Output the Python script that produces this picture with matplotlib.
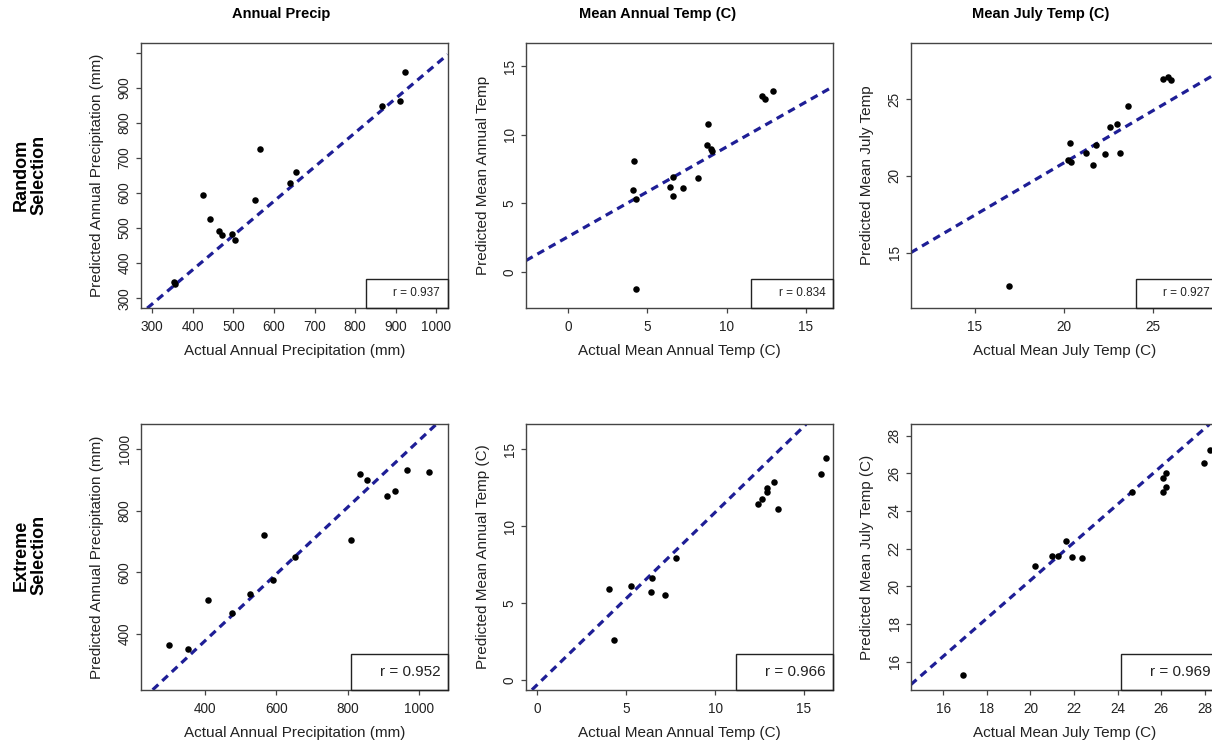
import numpy as np
import matplotlib
matplotlib.use("Agg")
import matplotlib.pyplot as plt
from matplotlib.patches import Rectangle

plt.rcParams['font.family'] = ['Liberation Sans', 'DejaVu Sans']

col_titles = ["Annual Precip", "Mean Annual Temp (C)", "Mean July Temp (C)"]
row_titles = ["Random\nSelection", "Extreme\nSelection"]

# random selection - annual precip
rp_x = [354, 356, 425, 442, 464, 471, 496, 503, 553, 565, 640, 655, 867, 911, 922]
rp_y = [345, 340, 594, 526, 492, 481, 484, 467, 580, 726, 628, 660, 848, 862, 945]
# random selection - mean annual temp
rt_x = [4.18, 4.12, 4.31, 4.27, 6.40, 6.61, 6.61, 7.23, 8.22, 8.75, 8.85, 9.0, 9.05, 12.23, 12.44, 12.89]
rt_y = [8.09, 5.94, 5.28, -1.24, 6.15, 6.88, 5.50, 6.08, 6.81, 9.28, 10.78, 8.97, 8.8, 12.84, 12.6, 13.18]
# random selection - mean july temp
rj_x = [16.91, 20.35, 20.27, 20.44, 21.23, 21.66, 21.81, 22.34, 22.62, 23.01, 23.16, 23.61, 25.6, 25.88, 26.01]
rj_y = [12.83, 22.17, 21.04, 20.93, 21.52, 20.74, 22.02, 21.43, 23.21, 23.38, 21.52, 24.55, 26.3, 26.45, 26.24]
# extreme selection - annual precip
ep_x = [300.6, 353, 409, 476.7, 526.5, 565.7, 591, 653.6, 808, 833.3, 855, 911, 933.6, 967.3, 1026.3]
ep_y = [365.4, 352.5, 510, 470, 529.3, 723, 575.4, 651, 703.7, 919.3, 900, 848.3, 864.3, 932.3, 925.7]
# extreme selection - mean annual temp
et_x = [4.07, 4.30, 5.26, 6.38, 6.45, 7.18, 7.82, 12.43, 12.62, 12.94, 12.94, 13.33, 13.56, 15.97, 16.25]
et_y = [5.95, 2.59, 6.14, 5.75, 6.62, 5.56, 7.97, 11.45, 11.77, 12.2, 12.49, 12.88, 11.12, 13.4, 14.43]
# extreme selection - mean july temp
ej_x = [16.89, 20.19, 21.0, 21.26, 21.64, 21.92, 22.38, 24.67, 26.1, 26.22, 26.22, 26.1, 27.95, 28.25]
ej_y = [15.3, 21.09, 21.62, 21.62, 22.42, 21.57, 21.52, 25.02, 25.74, 26.03, 25.25, 24.99, 26.52, 27.26]

# fitted lines (slope, intercept) and r values
fits = [[(0.976, -9.1), (0.655, 2.56), (0.678, 7.28)],
        [(1.0826, -54.5), (1.12, -0.30), (1.008, 0.155)]]
r_vals = [[0.937, 0.834, 0.927], [0.952, 0.966, 0.969]]

xlabels = ["Actual Annual Precipitation (mm)", "Actual Mean Annual Temp (C)", "Actual Mean July Temp (C)"]
ylabels = [["Predicted Annual Precipitation (mm)", "Predicted Mean Annual Temp", "Predicted Mean July Temp"],
           ["Predicted Annual Precipitation (mm)", "Predicted Mean Annual Temp (C)", "Predicted Mean July Temp (C)"]]

data = [[(rp_x, rp_y), (rt_x, rt_y), (rj_x, rj_y)],
        [(ep_x, ep_y), (et_x, et_y), (ej_x, ej_y)]]

lims = [[(271.5, 1028), (-2.65, 16.7), (11.4, 28.66)],
        [(220, 1080), (-0.62, 16.63), (14.5, 28.6)]]
ticks = [[np.arange(300, 1001, 100), [0, 5, 10, 15], [15, 20, 25]],
         [np.arange(400, 1001, 200), [0, 5, 10, 15], np.arange(16, 29, 2)]]

W, H = 1212, 745
fig = plt.figure(figsize=(W/100, H/100), dpi=100)

lefts = [140.7, 526, 910.7]
tops = [42.7, 424.3]
aw, ah = 307, 265.5
line_col = '#1e1e96'

for i in range(2):
    for j in range(3):
        ax = fig.add_axes([lefts[j]/W, 1 - (tops[i]+ah)/H, aw/W, ah/H])
        x, y = data[i][j]
        ax.scatter(x, y, s=22, color='black', zorder=3, linewidths=0)
        m, b = fits[i][j]
        ax.axline((0, b), slope=m, color=line_col, lw=2.3, ls=(0, (2.4, 1.7)), zorder=2)
        ax.set_xlim(lims[i][j])
        ax.set_ylim(lims[i][j])
        ax.set_xticks(ticks[i][j])
        ax.set_yticks(ticks[i][j])
        if i == 0 and j == 0:
            ax.set_yticklabels([str(t) if t < 1000 else '' for t in ticks[i][j]])
        for s in ax.spines.values():
            s.set_color('#444444')
            s.set_linewidth(1.0)
        ax.tick_params(length=3.6, width=0.9, color='#444444', labelsize=9.8, labelcolor='#222222')
        ax.tick_params(axis='x', pad=5)
        ax.tick_params(axis='y', pad=3, labelrotation=90)
        for lab in ax.get_yticklabels():
            lab.set_va('center')
        ax.set_xlabel(xlabels[j], fontsize=11, color='#222222')
        ax.set_ylabel(ylabels[i][j], fontsize=11, color='#222222')
        ax.xaxis.label.set_va('center')
        ax.yaxis.label.set_va('center')
        ax.xaxis.set_label_coords(0.5, -43/ah)
        ax.yaxis.set_label_coords(-43.4/aw, 0.5)

        # r legend box
        if i == 0:
            bw, bh, fs = 82/aw, 29.4/ah, 8.5
        else:
            bw, bh, fs = 97/aw, 36.3/ah, 11
        ax.add_patch(Rectangle((1-bw, 0), bw, bh, transform=ax.transAxes, fill=False,
                               edgecolor='#222222', lw=1.0, zorder=4, clip_on=False))
        ax.text(1 - 7.5/aw, bh/2, "r = %.3f" % r_vals[i][j], transform=ax.transAxes,
                ha='right', va='center', fontsize=fs, color='#222222', zorder=5)

# column titles
title_x = [281, 658, 1041]
for j in range(3):
    fig.text(title_x[j]/W, 1 - 14/H, col_titles[j], ha='center', va='center',
             fontsize=10.5, fontweight='bold')

# row titles
row_y = [175, 555]
for i in range(2):
    fig.text(30/W, 1 - row_y[i]/H, row_titles[i], ha='center', va='center',
             rotation=90, fontsize=13, fontweight='bold', linespacing=1.1)

fig.savefig("out.png", dpi=100)
